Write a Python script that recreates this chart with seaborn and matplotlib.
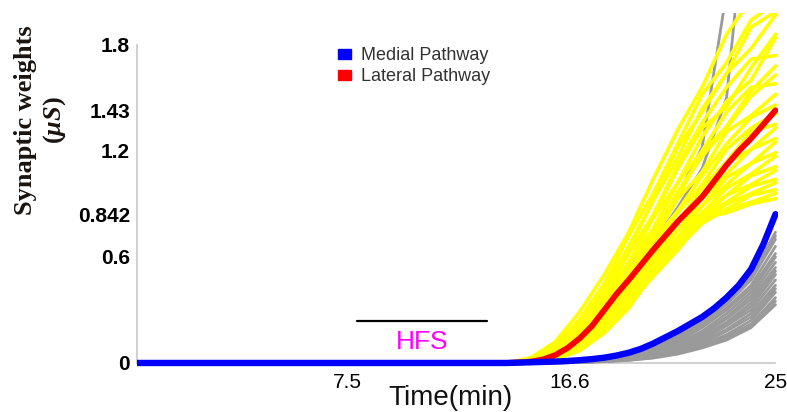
import numpy as np
import pandas as pd
import seaborn as sns
import matplotlib.pyplot as plt
from matplotlib.patches import Patch

# time (min)
t_start = -1.1
t_mean = [t_start, 14, 14.5, 15, 15.5, 16, 16.5, 17, 17.5, 18, 18.5, 19, 19.5,
          20, 20.5, 21, 21.5, 22, 22.5, 23, 23.5, 24, 24.5, 25]
medial_mean = [0, 0, 0.002, 0.004, 0.006, 0.008, 0.011, 0.016, 0.022, 0.03, 0.042, 0.058,
               0.08, 0.11, 0.145, 0.18, 0.22, 0.26, 0.31, 0.37, 0.44, 0.53, 0.67, 0.842]
lateral_mean = [0, 0, 0.003, 0.008, 0.02, 0.045, 0.085, 0.14, 0.21, 0.30, 0.39, 0.47,
                0.555, 0.64, 0.72, 0.80, 0.87, 0.94, 1.03, 1.12, 1.20, 1.27, 1.35, 1.43]

# single trials, values at t = 15..25 (flat 0 before)
t_trial = [14, 15, 16, 17, 18, 19, 20, 21, 22, 23, 24, 25]
lateral_trials = [
    [0.03, 0.12, 0.29, 0.50, 0.74, 1.04, 1.32, 1.56, 1.86, 2.06, 2.25],
    [0.025, 0.10, 0.25, 0.45, 0.72, 0.96, 1.24, 1.52, 1.70, 1.94, 2.04],
    [0.02, 0.09, 0.23, 0.41, 0.64, 0.92, 1.16, 1.44, 1.64, 1.78, 1.97],
    [0.02, 0.08, 0.21, 0.38, 0.62, 0.84, 1.12, 1.36, 1.56, 1.72, 1.74],
    [0.02, 0.08, 0.20, 0.37, 0.57, 0.82, 1.02, 1.28, 1.48, 1.60, 1.84],
    [0.015, 0.07, 0.18, 0.35, 0.56, 0.76, 1.02, 1.20, 1.42, 1.56, 1.58],
    [0.015, 0.06, 0.17, 0.33, 0.51, 0.75, 0.94, 1.19, 1.34, 1.54, 1.68],
    [0.015, 0.06, 0.16, 0.31, 0.50, 0.70, 0.93, 1.08, 1.31, 1.40, 1.52],
    [0.012, 0.05, 0.15, 0.30, 0.47, 0.69, 0.86, 1.06, 1.24, 1.39, 1.46],
    [0.012, 0.05, 0.14, 0.29, 0.46, 0.65, 0.85, 1.01, 1.21, 1.33, 1.41],
    [0.01, 0.05, 0.14, 0.28, 0.45, 0.63, 0.79, 0.99, 1.14, 1.31, 1.35],
    [0.01, 0.045, 0.13, 0.27, 0.43, 0.60, 0.79, 0.94, 1.13, 1.21, 1.33],
    [0.01, 0.04, 0.12, 0.26, 0.42, 0.59, 0.75, 0.93, 1.07, 1.21, 1.27],
    [0.01, 0.04, 0.12, 0.25, 0.41, 0.56, 0.75, 0.89, 1.05, 1.13, 1.25],
    [0.008, 0.035, 0.11, 0.24, 0.39, 0.56, 0.71, 0.89, 1.01, 1.13, 1.19],
    [0.008, 0.035, 0.11, 0.23, 0.38, 0.54, 0.71, 0.85, 0.99, 1.07, 1.17],
    [0.008, 0.03, 0.10, 0.22, 0.37, 0.53, 0.68, 0.85, 0.95, 1.06, 1.11],
    [0.007, 0.03, 0.10, 0.21, 0.36, 0.52, 0.69, 0.82, 0.95, 1.01, 1.09],
    [0.007, 0.03, 0.09, 0.20, 0.35, 0.51, 0.66, 0.83, 0.91, 1.00, 1.04],
    [0.006, 0.025, 0.09, 0.19, 0.34, 0.50, 0.67, 0.80, 0.90, 0.96, 1.02],
    [0.006, 0.025, 0.08, 0.18, 0.33, 0.49, 0.64, 0.81, 0.87, 0.95, 0.98],
    [0.005, 0.02, 0.08, 0.17, 0.32, 0.50, 0.65, 0.79, 0.87, 0.91, 0.96],
    [0.005, 0.02, 0.07, 0.17, 0.31, 0.51, 0.66, 0.82, 0.85, 0.90, 0.93],
    [0.02, 0.09, 0.24, 0.43, 0.66, 0.92, 1.22, 1.42, 1.64, 1.90, 1.99],
    [0.02, 0.07, 0.19, 0.35, 0.55, 0.83, 1.10, 1.33, 1.45, 1.67, 1.86],
    [0.012, 0.055, 0.15, 0.31, 0.50, 0.72, 0.97, 1.17, 1.33, 1.51, 1.63],
]
medial_trials = [
    [0.002, 0.005, 0.01, 0.025, 0.05, 0.09, 0.15, 0.24, 0.35, 0.49, 0.74],
    [0.002, 0.005, 0.01, 0.024, 0.048, 0.088, 0.15, 0.23, 0.34, 0.48, 0.72],
    [0.002, 0.005, 0.01, 0.022, 0.045, 0.08, 0.14, 0.22, 0.33, 0.47, 0.70],
    [0.002, 0.004, 0.009, 0.02, 0.04, 0.075, 0.13, 0.21, 0.31, 0.44, 0.66],
    [0.002, 0.004, 0.008, 0.018, 0.038, 0.07, 0.12, 0.20, 0.30, 0.42, 0.62],
    [0.001, 0.004, 0.008, 0.017, 0.035, 0.065, 0.11, 0.18, 0.28, 0.40, 0.60],
    [0.001, 0.003, 0.007, 0.016, 0.033, 0.06, 0.10, 0.17, 0.26, 0.38, 0.57],
    [0.001, 0.003, 0.007, 0.015, 0.03, 0.055, 0.095, 0.16, 0.25, 0.36, 0.54],
    [0.001, 0.003, 0.006, 0.014, 0.028, 0.05, 0.09, 0.15, 0.23, 0.34, 0.52],
    [0.001, 0.003, 0.006, 0.013, 0.026, 0.048, 0.085, 0.14, 0.22, 0.32, 0.50],
    [0.001, 0.002, 0.005, 0.012, 0.024, 0.045, 0.08, 0.13, 0.21, 0.30, 0.47],
    [0.001, 0.002, 0.005, 0.011, 0.022, 0.042, 0.075, 0.12, 0.19, 0.28, 0.44],
    [0.001, 0.002, 0.005, 0.01, 0.02, 0.04, 0.07, 0.11, 0.18, 0.26, 0.42],
    [0.001, 0.002, 0.004, 0.01, 0.02, 0.036, 0.065, 0.10, 0.16, 0.24, 0.40],
    [0.0, 0.002, 0.004, 0.009, 0.018, 0.033, 0.06, 0.095, 0.15, 0.22, 0.37],
    [0.0, 0.001, 0.003, 0.008, 0.016, 0.03, 0.055, 0.09, 0.14, 0.21, 0.35],
    [0.0, 0.001, 0.003, 0.008, 0.015, 0.028, 0.05, 0.085, 0.13, 0.20, 0.33],
    [0.02, 0.08, 0.20, 0.36, 0.55, 0.74, 0.95, 1.22, 2.10, 3.00, 3.50],
    [0.02, 0.07, 0.18, 0.33, 0.50, 0.68, 0.88, 1.10, 1.50, 2.90, 3.40],
]

y_ticks = [0, 0.6, 0.842, 1.2, 1.43, 1.8]
y_ticklabels = ['0', '0.6', '0.842', '1.2', '1.43', '1.8']
x_ticks = [7.5, 16.6, 25]
x_ticklabels = ['7.5', '16.6', '25']
hfs_start, hfs_end, hfs_level = 7.9, 13.2, 0.24


def trials_frame(trials):
    rows = []
    for i, vals in enumerate(trials):
        for t, v in zip(t_trial, [0.0] + vals):
            rows.append((i, t, v))
    return pd.DataFrame(rows, columns=['trial', 'time', 'w'])


sns.set_theme(style='white')
plt.rcParams['font.family'] = ['Liberation Sans', 'DejaVu Sans']
plt.rcParams['mathtext.fontset'] = 'custom'
plt.rcParams['mathtext.it'] = 'Liberation Serif:italic:bold'
plt.rcParams['mathtext.rm'] = 'Liberation Serif:bold'

fig = plt.figure(figsize=(7.87, 4.12), dpi=100)
ax = fig.add_axes([0.1741, 0.1104, 0.815, 0.8578])

df_med = trials_frame(medial_trials)
df_lat = trials_frame(lateral_trials)
mean_df = pd.DataFrame({'time': t_mean, 'medial': medial_mean, 'lateral': lateral_mean})

sns.lineplot(data=df_med, x='time', y='w', units='trial', estimator=None,
             color='#9a9a9a', lw=2.0, ax=ax, legend=False, zorder=3)
sns.lineplot(data=df_lat, x='time', y='w', units='trial', estimator=None,
             color='#ffff00', lw=2.6, ax=ax, legend=False, zorder=3)
sns.lineplot(data=mean_df, x='time', y='lateral', color='#ff0000', lw=4.2, ax=ax, zorder=4)
sns.lineplot(data=mean_df, x='time', y='medial', color='#0000ff', lw=4.6, ax=ax, zorder=5)

# HFS bar
ax.plot([hfs_start, hfs_end], [hfs_level, hfs_level], color='black', lw=1.6, zorder=3)
ax.text((hfs_start + hfs_end) / 2, 0.119, 'HFS', color='#ff00ff', fontsize=19,
        ha='center', va='center')

ax.set_xlim(t_start, 25.12)
ax.set_ylim(-0.02, 1.98)
ax.set_xticks(x_ticks)
ax.set_xticklabels(x_ticklabels)
ax.set_yticks(y_ticks)
ax.set_yticklabels(y_ticklabels)
ax.tick_params(axis='both', length=2, width=1, color='#c8c8c8', labelsize=15,
               labelcolor='#000000', pad=3)
ax.tick_params(axis='x', pad=5)
plt.setp(ax.get_xticklabels() + ax.get_yticklabels(), fontweight='bold')

sns.despine(ax=ax)
for side in ['left', 'bottom']:
    ax.spines[side].set_color('#c8c8c8')
    ax.spines[side].set_linewidth(1.2)
ax.spines['bottom'].set_position(('data', 0))
ax.spines['bottom'].set_bounds(t_start, 25)
ax.spines['left'].set_bounds(0, 1.8)

ax.set_xlabel('Time(min)', fontsize=20, color='#111111')
ax.xaxis.set_label_coords(0.488, -0.052)
ax.set_ylabel('Synaptic weights\n($\\mu S$)', fontsize=19, fontweight='bold',
              family='Liberation Serif', color='#1a1410', va='center', ha='center',
              linespacing=1.2)
ax.yaxis.set_label_coords(-0.1497, 0.6975)

handles = [Patch(facecolor='#0000ff', edgecolor='#0000ff'),
           Patch(facecolor='#ff0000', edgecolor='#ff0000')]
ax.legend(handles, ['Medial Pathway', 'Lateral Pathway'], loc='upper left',
          bbox_to_anchor=(0.3134, 0.9027), frameon=False, fontsize=13,
          handlelength=0.72, handleheight=0.46, handletextpad=0.55,
          labelspacing=0.2, borderpad=0, borderaxespad=0, labelcolor='#333333')

fig.savefig('out.png', dpi=100)
